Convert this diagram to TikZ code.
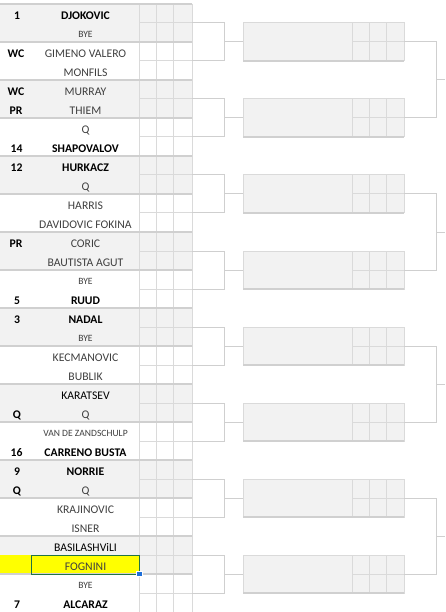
\documentclass[tikz,border=0pt]{standalone}
\usepackage{fontspec}
\setmainfont{Carlito}
\usetikzlibrary{calc}
\definecolor{cellg}{HTML}{F2F2F2}
\definecolor{gridc}{HTML}{DADADA}
\definecolor{bordc}{HTML}{D0D0D0}
\definecolor{brk}{HTML}{CFCFCF}
\definecolor{txtg}{HTML}{3F3F3F}
\definecolor{selg}{HTML}{217346}
\definecolor{selb}{HTML}{1E6FD9}
\definecolor{hiy}{HTML}{FFFF00}
\tikzset{
  nm/.style={anchor=base,inner sep=0pt,text=txtg,font=\fontsize{11.7}{13}\selectfont},
  nk/.style={anchor=base,inner sep=0pt,text=black,font=\fontsize{11.7}{13}\selectfont},
  nb/.style={anchor=base,inner sep=0pt,text=black,font=\fontsize{11.7}{13}\selectfont\bfseries},
  ns/.style={anchor=base,inner sep=0pt,text=txtg,font=\fontsize{9.6}{11}\selectfont},
  sd/.style={anchor=base,inner sep=0pt,text=black,font=\fontsize{11.7}{13}\selectfont\bfseries},
  rbox/.style={draw=gridc,fill=cellg,line width=1pt,minimum width=161pt,minimum height=38pt,inner sep=0pt,outer sep=0pt},
  brline/.style={draw=brk,line width=1pt}
}
\begin{document}
\begin{tikzpicture}[x=1pt,y=-1pt]
\useasboundingbox (0,0) rectangle (445,612);
% grey groups
\foreach \g in {0,2,...,14}
  \fill[cellg] (0,{4+38*\g}) rectangle (192,{42+38*\g});
% highlighted cell
\fill[hiy] (0,555) rectangle (139,574);
% grid
\foreach \g in {0,...,15}
  \draw[gridc,line width=1pt] (139,{23+38*\g}) -- (192,{23+38*\g});
\foreach \x in {139,156.7,173.7,192}
  \draw[gridc,line width=1pt] (\x,4) -- (\x,612);
\foreach \g in {0,...,15}
  \draw[bordc,line width=2pt] (0,{4+38*\g}) -- (192,{4+38*\g});
% selection
\draw[selg,line width=1pt] (31,555) rectangle (139,574);
\draw[white,fill=selb,line width=0.6pt] (136.5,571) rectangle (142,576.5);

% second round boxes
\foreach \j in {0,...,7}{
  \node[rbox] (r\j) at (323.5,{42+76*\j}) {};
  \draw[gridc,line width=1pt] ($(r\j.north east)+(-52,0)$) -- ($(r\j.south east)+(-52,0)$);
  \draw[gridc,line width=1pt] ($(r\j.north east)+(-34.7,0)$) -- ($(r\j.south east)+(-34.7,0)$);
  \draw[gridc,line width=1pt] ($(r\j.north east)+(-17.3,0)$) -- ($(r\j.south east)+(-17.3,0)$);
  \draw[gridc,line width=1pt] ($(r\j.east)+(-52,0)$) -- (r\j.east);
  \draw[bordc,line width=2pt] (r\j.south west) -- (r\j.south east);
  \coordinate (ga\j) at (192,{23+76*\j});
  \coordinate (gb\j) at (192,{61+76*\j});
  \draw[brline] (ga\j) -- ++(32,0) |- (r\j.west);
  \draw[brline] (gb\j) -- ++(32,0) |- (r\j.west);
}
% third round connectors
\foreach \m [evaluate=\m as \a using {int(2*\m)}, evaluate=\m as \b using {int(2*\m+1)}] in {0,...,3}{
  \coordinate (f\m) at (445,{80+152*\m});
  \draw[brline] (r\a.east) -- ++(32,0) |- (f\m);
  \draw[brline] (r\b.east) -- ++(32,0) |- (f\m);
}

% names
\node[nb] (n1) at (85.5,19.2) {DJOKOVIC};
\node[ns] (n2) at (85.5,37.2) {BYE};
\node[nm] (n3) at (85.5,57.2) {GIMENO VALERO};
\node[nm] (n4) at (85.5,76.2) {MONFILS};
\node[nm] (n5) at (85.5,95.2) {MURRAY};
\node[nm] (n6) at (85.5,114.2) {THIEM};
\node[nm] (n7) at (85.5,133.2) {Q};
\node[nb] (n8) at (85.5,152.2) {SHAPOVALOV};
\node[nb] (n9) at (85.5,171.2) {HURKACZ};
\node[nm] (n10) at (85.5,190.2) {Q};
\node[nm] (n11) at (85.5,209.2) {HARRIS};
\node[nm] (n12) at (85.5,228.2) {DAVIDOVIC FOKINA};
\node[nm] (n13) at (85.5,247.2) {CORIC};
\node[nm] (n14) at (85.5,266.2) {BAUTISTA AGUT};
\node[ns] (n15) at (85.5,284.2) {BYE};
\node[nb] (n16) at (85.5,304.2) {RUUD};
\node[nb] (n17) at (85.5,323.2) {NADAL};
\node[ns] (n18) at (85.5,341.2) {BYE};
\node[nm] (n19) at (85.5,361.2) {KECMANOVIC};
\node[nm] (n20) at (85.5,380.2) {BUBLIK};
\node[nk] (n21) at (85.5,399.2) {KARATSEV};
\node[nm] (n22) at (85.5,418.2) {Q};
\node[ns] (n23) at (85.5,436.2) {VAN DE ZANDSCHULP};
\node[nb] (n24) at (85.5,456.2) {CARRENO BUSTA};
\node[nb] (n25) at (85.5,475.2) {NORRIE};
\node[nm] (n26) at (85.5,494.2) {Q};
\node[nm] (n27) at (85.5,513.2) {KRAJINOVIC};
\node[nm] (n28) at (85.5,532.2) {ISNER};
\node[nk] (n29) at (85.5,551.2) {BASILASHViLI};
\node[nm] (n30) at (85.5,570.2) {FOGNINI};
\node[ns] (n31) at (85.5,588.2) {BYE};
\node[nb] (n32) at (85.5,608.2) {ALCARAZ};
% seeds
\node[sd] (s1) at (17,19.2) {1};
\node[sd] (s3) at (16,57.2) {WC};
\node[sd] (s5) at (16,95.2) {WC};
\node[sd] (s6) at (16,114.2) {PR};
\node[sd] (s8) at (16.5,152.2) {14};
\node[sd] (s9) at (16.5,171.2) {12};
\node[sd] (s13) at (16,247.2) {PR};
\node[sd] (s16) at (17,304.2) {5};
\node[sd] (s17) at (17,323.2) {3};
\node[sd] (s22) at (17,418.2) {Q};
\node[sd] (s24) at (16.5,456.2) {16};
\node[sd] (s25) at (17,475.2) {9};
\node[sd] (s26) at (17,494.2) {Q};
\node[sd] (s32) at (17,608.2) {7};
\end{tikzpicture}
\end{document}
